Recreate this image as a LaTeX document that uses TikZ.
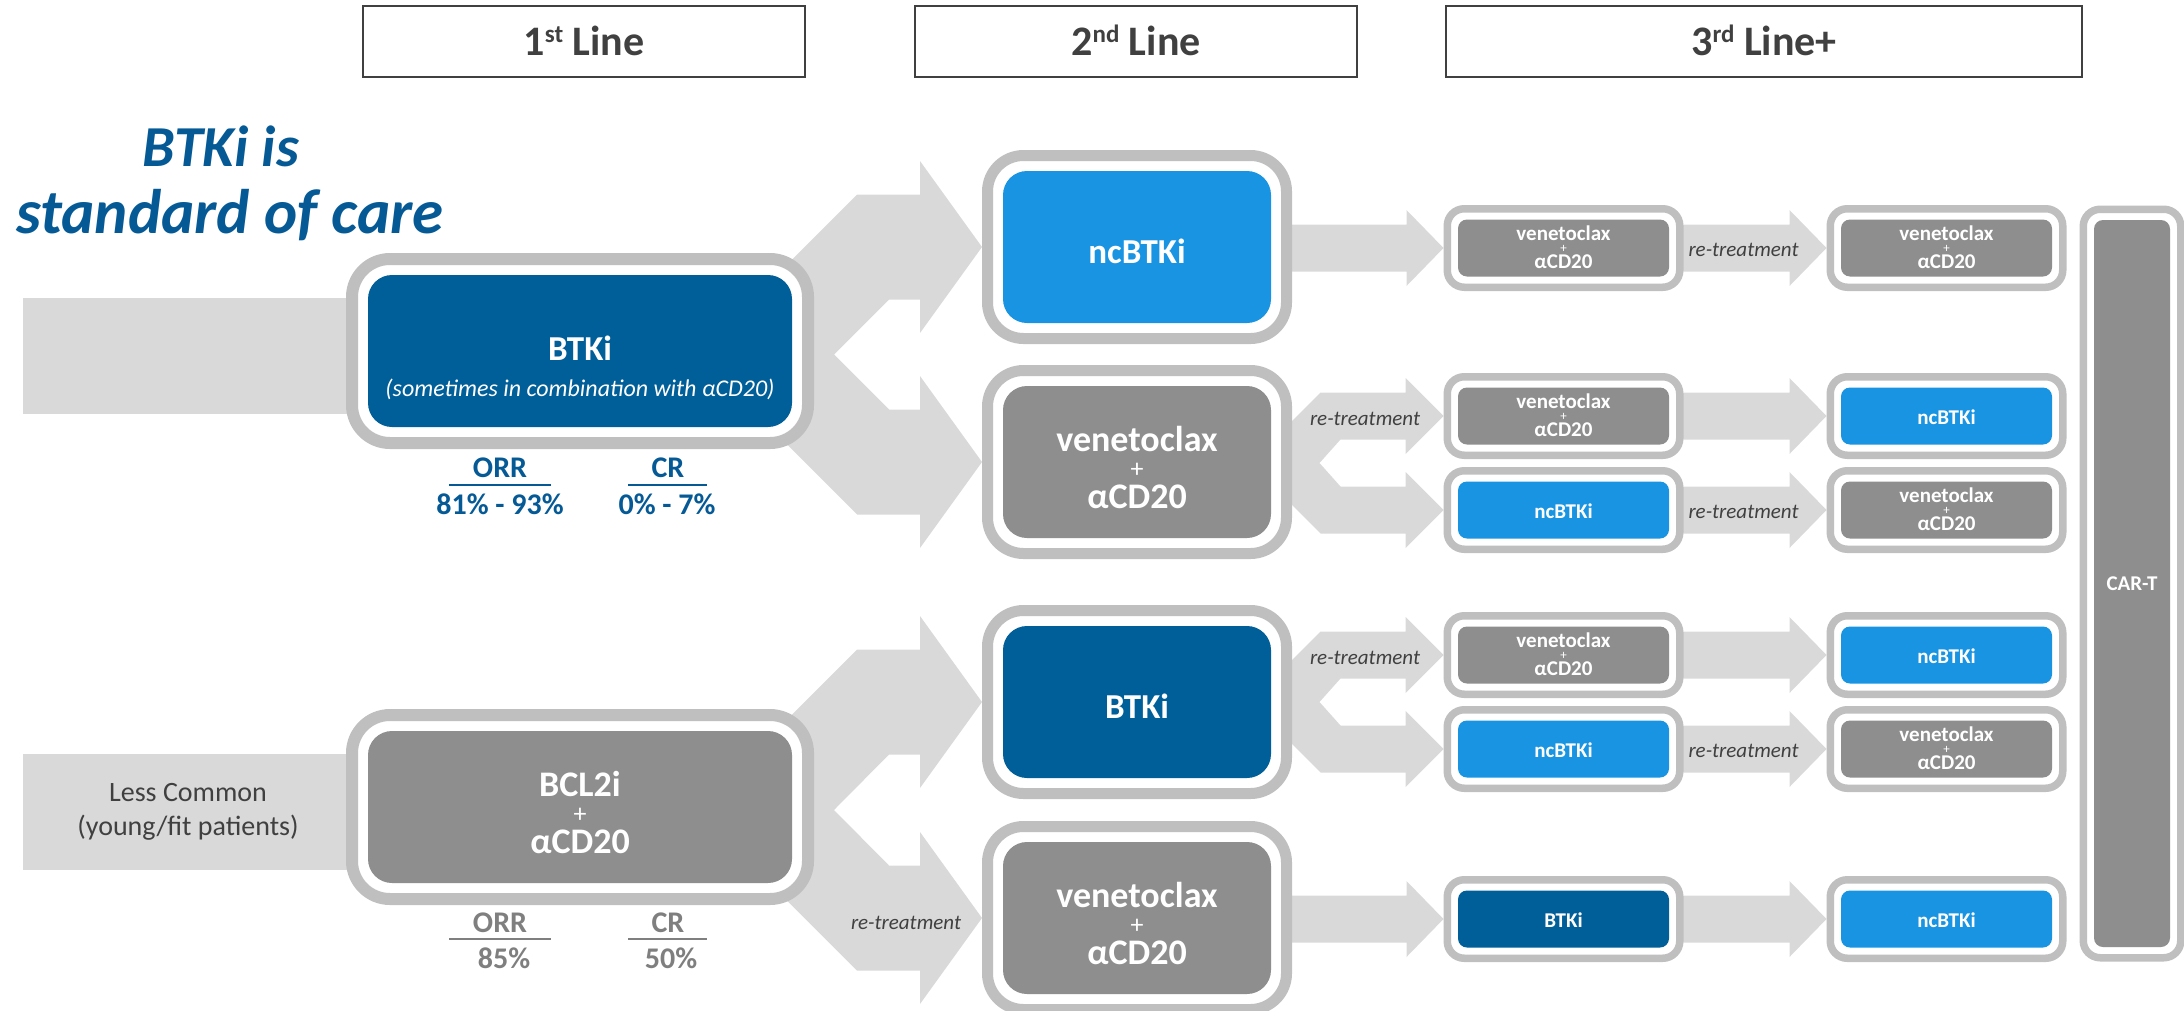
\documentclass[tikz,border=0pt]{standalone}
\usepackage{fontspec}
\setmainfont{Carlito}
\usetikzlibrary{calc,fit}
\definecolor{dblue}{HTML}{005F99}
\definecolor{lblue}{HTML}{1894E2}
\definecolor{bgray}{HTML}{8E8E8E}
\definecolor{rgray}{HTML}{BFBFBF}
\definecolor{agray}{HTML}{D9D9D9}
\definecolor{tblue}{HTML}{055A96}
\definecolor{tdark}{HTML}{404040}
\definecolor{tmid}{HTML}{7F7F7F}
\pgfdeclarelayer{arrows}
\pgfdeclarelayer{rings}
\pgfsetlayers{arrows,rings,main}
\tikzset{
 inbox/.style={inner sep=0pt, outer sep=0pt, text=white, align=center},
 bigbox/.style={inbox, minimum width=424pt, minimum height=152pt, rounded corners=24pt},
 midbox/.style={inbox, minimum width=268pt, minimum height=152pt, rounded corners=24pt, font=\bfseries\fontsize{35}{35}\selectfont, text height=32pt, text depth=0pt},
 smallbox/.style={inbox, minimum width=211pt, minimum height=57pt, rounded corners=9pt, font=\bfseries\fontsize{21}{21}\selectfont, text height=16pt, text depth=0pt},
 fdb/.style={fill=dblue}, flb/.style={fill=lblue}, fgr/.style={fill=bgray},
 ringL/.style={draw=rgray, fill=white, line width=12pt, inner sep=16pt, outer sep=6pt, rounded corners=38pt},
 ringM/.style={draw=rgray, fill=white, line width=11pt, inner sep=15.5pt, outer sep=5.5pt, rounded corners=36pt},
 ringS/.style={draw=rgray, fill=white, line width=7.5pt, inner sep=10.75pt, outer sep=3.75pt, rounded corners=17pt},
 hdr/.style={draw=tdark, line width=2pt, fill=white, minimum height=71pt, inner sep=0pt, text=tdark, font=\bfseries\fontsize{42}{42}\selectfont, text height=27pt, text depth=0pt},
 wt/.style={text=white, inner sep=0pt, outer sep=0pt},
 retr/.style={text=tdark, inner sep=0pt, font=\itshape\fontsize{21}{21}\selectfont, anchor=base},
 stat/.style={inner sep=0pt, font=\bfseries\fontsize{30}{30}\selectfont, anchor=base},
 bar/.style={fill=agray, inner sep=0pt, minimum width=330pt, minimum height=116pt},
 ttl/.style={text=tblue, anchor=base, inner sep=0pt},
}
\newcommand\tbox[5]{%
 \node[#3] (#1) at (#2) {#5};
 \begin{pgfonlayer}{rings}\node[#4, fit=(#1)] (#1o) {};\end{pgfonlayer}}
\newcommand\stackL[2]{%
 \node[wt,anchor=base,font=\bfseries\fontsize{36}{36}\selectfont] (#1a) at ($(#1.center)+(0,-10.5)$) {#2};
 \node[wt,font=\fontsize{26}{26}\selectfont] (#1b) at ($(#1.center)+(0,8)$) {+};
 \node[wt,anchor=base,font=\bfseries\fontsize{36}{36}\selectfont] (#1c) at ($(#1.center)+(0,46)$) {αCD20};}
\newcommand\stackS[1]{%
 \node[wt,anchor=base,font=\bfseries\fontsize{21}{21}\selectfont] (#1a) at ($(#1.center)+(0,-8)$) {venetoclax};
 \node[wt,font=\fontsize{13}{13}\selectfont] (#1b) at ($(#1.center)+(0,0.5)$) {+};
 \node[wt,anchor=base,font=\bfseries\fontsize{21}{21}\selectfont] (#1c) at ($(#1.center)+(0,20)$) {αCD20};}
% #1 src, #2 upper dst, #3 lower dst, #4 shaft half, #5 head half, #6 head length, #7 outer shoulder, #8 inner shoulder, #9 notch
\newcommand\fork[9]{%
 \fill[agray] let \p1=(#2.west), \p2=(#3.west), \p3=(#1.center) in
 (\x1,\y1) -- (\x1-#6pt,\y1+#5pt) -- (\x1-#6pt,\y1+#4pt) -- (\x1-#7pt,\y1+#4pt)
 -- (\x1-#7pt-80pt,\y1+#4pt-80pt) -- (\x3,\y3) -- (\x1-#7pt-80pt,\y2-#4pt+80pt)
 -- (\x1-#7pt,\y2-#4pt) -- (\x1-#6pt,\y2-#4pt) -- (\x1-#6pt,\y2-#5pt) -- (\x1,\y2)
 -- (\x1-#6pt,\y2+#5pt) -- (\x1-#6pt,\y2+#4pt) -- (\x1-#8pt,\y2+#4pt)
 -- (\x1-#9pt,{0.5*\y1+0.5*\y2}) -- (\x1-#8pt,\y1-#4pt) -- (\x1-#6pt,\y1-#4pt)
 -- (\x1-#6pt,\y1-#5pt) -- cycle;}
\newcommand\fat[2]{%
 \fill[agray] let \p1=(#1.east), \p2=(#2.west) in
 (\x1-5pt,\y2+23.5pt) -- (\x2-37pt,\y2+23.5pt) -- (\x2-37pt,\y2+38pt) -- (\x2,\y2)
 -- (\x2-37pt,\y2-38pt) -- (\x2-37pt,\y2-23.5pt) -- (\x1-5pt,\y2-23.5pt) -- cycle;}
\begin{document}
\begin{tikzpicture}[x=1pt,y=-1pt]
\useasboundingbox (0,0) rectangle (2184,1010);
% headers
\node[hdr, minimum width=442pt] (h1) at (584,41.5) {1\raisebox{13pt}{\fontsize{25}{25}\selectfont st} Line};
\node[hdr, minimum width=442pt] (h2) at (1136,41.5) {2\raisebox{13pt}{\fontsize{25}{25}\selectfont nd} Line};
\node[hdr, minimum width=636pt] (h3) at (1764,41.5) {3\raisebox{13pt}{\fontsize{25}{25}\selectfont rd} Line+};
% title
\node[ttl, font=\bfseries\itshape\fontsize{58}{58}\selectfont] (t1) at (221,166) {BTKi is};
\node[ttl, font=\bfseries\itshape\fontsize{63}{63}\selectfont] (t2) at (230,233) {standard of care};
% first line
\tbox{f1}{580,351}{bigbox,fdb}{ringL}{}
\node[wt, anchor=base, font=\bfseries\fontsize{35}{35}\selectfont] (f1a) at ($(f1.center)+(0,9)$) {BTKi};
\node[wt, anchor=base, font=\itshape\fontsize{24}{24}\selectfont] (f1b) at ($(f1.center)+(0,45)$) {(sometimes in combination with αCD20)};
\tbox{f2}{580,807}{bigbox,fgr}{ringL}{}
\stackL{f2}{BCL2i}
% second line
\tbox{s1}{1137,247}{midbox,flb}{ringM}{ncBTKi}
\tbox{s2}{1137,462}{midbox,fgr}{ringM}{}
\stackL{s2}{venetoclax}
\tbox{s3}{1137,702}{midbox,fdb}{ringM}{BTKi}
\tbox{s4}{1137,918}{midbox,fgr}{ringM}{}
\stackL{s4}{venetoclax}
% third line
\tbox{a1}{1563.5,248}{smallbox,fgr}{ringS}{}\stackS{a1}
\tbox{b1}{1946.5,248}{smallbox,fgr}{ringS}{}\stackS{b1}
\tbox{a2}{1563.5,416}{smallbox,fgr}{ringS}{}\stackS{a2}
\tbox{b2}{1946.5,416}{smallbox,flb}{ringS}{ncBTKi}
\tbox{a3}{1563.5,510}{smallbox,flb}{ringS}{ncBTKi}
\tbox{b3}{1946.5,510}{smallbox,fgr}{ringS}{}\stackS{b3}
\tbox{a4}{1563.5,655}{smallbox,fgr}{ringS}{}\stackS{a4}
\tbox{b4}{1946.5,655}{smallbox,flb}{ringS}{ncBTKi}
\tbox{a5}{1563.5,749}{smallbox,flb}{ringS}{ncBTKi}
\tbox{b5}{1946.5,749}{smallbox,fgr}{ringS}{}\stackS{b5}
\tbox{a6}{1563.5,919}{smallbox,fdb}{ringS}{BTKi}
\tbox{b6}{1946.5,919}{smallbox,flb}{ringS}{ncBTKi}
\tbox{ct}{2132,583.5}{inbox,fgr,minimum width=76pt,minimum height=727pt,rounded corners=9pt,font=\bfseries\fontsize{21}{21}\selectfont,text height=13.5pt,text depth=0pt}{ringS}{CAR-T}
% stats
\node[stat,text=tblue] (o1) at (500,477) {ORR};
\node[stat,text=tblue] (c1) at (668,477) {CR};
\draw[tblue, line width=2pt] (449,485) -- (551,485) (628,485) -- (707,485);
\node[stat,text=tblue] (o1v) at (500,514) {81\% - 93\%};
\node[stat,text=tblue] (c1v) at (667,514) {0\% - 7\%};
\node[stat,text=tmid] (o2) at (500,932) {ORR};
\node[stat,text=tmid] (c2) at (668,932) {CR};
\draw[tmid, line width=2pt] (449,939) -- (551,939) (628,939) -- (707,939);
\node[stat,text=tmid] (o2v) at (504,968) {85\%};
\node[stat,text=tmid] (c2v) at (671,968) {50\%};
% arrows and bars
\begin{pgfonlayer}{arrows}
\node[bar] (lb1) at (188,356) {};
\node[bar, text=tdark, align=center, font=\fontsize{28}{34}\selectfont] (lb2) at (188,812) {Less Common\\(young/fit patients)};
\fork{f1o}{s1o}{s2o}{52.5}{86}{62}{125}{93}{148}
\fork{f2o}{s3o}{s4o}{52.5}{86}{62}{125}{93}{148}
\fork{s2o}{a2o}{a3o}{23.5}{38}{38}{123}{103}{124}
\fork{s3o}{a4o}{a5o}{23.5}{38}{38}{123}{103}{124}
\fat{s1o}{a1o}
\fat{s4o}{a6o}
\fat{a1o}{b1o}
\fat{a2o}{b2o}
\fat{a3o}{b3o}
\fat{a4o}{b4o}
\fat{a5o}{b5o}
\fat{a6o}{b6o}
\end{pgfonlayer}
% labels
\node[retr] (r1) at ($(a1o.east)+(60,8.5)$) {re-treatment};
\node[retr] (r3) at ($(a3o.east)+(60,8.5)$) {re-treatment};
\node[retr] (r5) at ($(a5o.east)+(60,8.5)$) {re-treatment};
\node[retr] (rs2) at ($(s2o.east |- a2o.west)+(73,9)$) {re-treatment};
\node[retr] (rs3) at ($(s3o.east |- a4o.west)+(73,9)$) {re-treatment};
\node[retr] (rf2) at ($(f2o.east |- s4o.west)+(92,11)$) {re-treatment};
\end{tikzpicture}
\end{document}
